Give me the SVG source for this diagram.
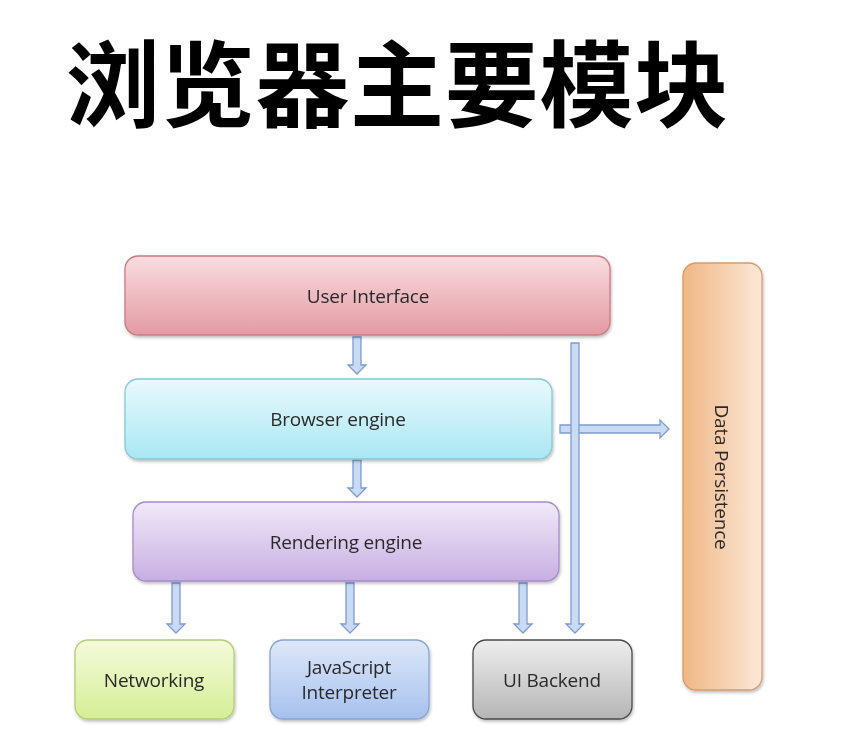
<svg xmlns="http://www.w3.org/2000/svg" width="852" height="738" viewBox="0 0 852 738">
<style>
.lbl{font-family:"Open Sans","Liberation Sans",sans-serif;font-size:19px;fill:#2a2a2a;text-anchor:middle;dominant-baseline:central;letter-spacing:-0.2px}
.title{font-family:"Noto Sans CJK SC","Noto Sans",sans-serif;font-size:94px;font-weight:bold;fill:#000;letter-spacing:0.7px}
.arr{fill:#c9daf3;stroke:#7d9bd1;stroke-width:1.3;stroke-linejoin:miter}
</style>
<defs>
<linearGradient id="gUI" x1="0" y1="0" x2="0" y2="1"><stop offset="0" stop-color="#f9dce0"/><stop offset="1" stop-color="#e49aa3"/></linearGradient>
<linearGradient id="gBE" x1="0" y1="0" x2="0" y2="1"><stop offset="0" stop-color="#e9f9fd"/><stop offset="1" stop-color="#a9e7f3"/></linearGradient>
<linearGradient id="gRE" x1="0" y1="0" x2="0" y2="1"><stop offset="0" stop-color="#f1e9f9"/><stop offset="1" stop-color="#c7afe2"/></linearGradient>
<linearGradient id="gNW" x1="0" y1="0" x2="0" y2="1"><stop offset="0" stop-color="#f4fbdb"/><stop offset="1" stop-color="#d5ee95"/></linearGradient>
<linearGradient id="gJS" x1="0" y1="0" x2="0" y2="1"><stop offset="0" stop-color="#dde8f9"/><stop offset="1" stop-color="#a6c1ee"/></linearGradient>
<linearGradient id="gUB" x1="0" y1="0" x2="0" y2="1"><stop offset="0" stop-color="#eeeeee"/><stop offset="1" stop-color="#b5b5b5"/></linearGradient>
<linearGradient id="gDP" x1="0" y1="0" x2="1" y2="0"><stop offset="0" stop-color="#efb785"/><stop offset="1" stop-color="#fbe8d8"/></linearGradient>
<filter id="sh" x="-10%" y="-10%" width="120%" height="130%"><feDropShadow dx="1" dy="2" stdDeviation="1.5" flood-color="#000" flood-opacity="0.25"/></filter>
</defs>
<text class="title" x="66" y="120">浏览器主要模块</text>
<g id="connectors">
<path class="arr" d="M353,337 H361 V365 H366 L357,374 L348,365 H353 Z"/>
<path class="arr" d="M353,460 H361 V488 H366 L357,497 L348,488 H353 Z"/>
<path class="arr" d="M172,583 H180 V624 H185 L176,633 L167,624 H172 Z"/>
<path class="arr" d="M346,583 H354 V624 H359 L350,633 L341,624 H346 Z"/>
<path class="arr" d="M519,583 H527 V624 H532 L523,633 L514,624 H519 Z"/>
<path class="arr" d="M560,425 H660 V420 L669,429 L660,438 V433 H560 Z"/>
<path class="arr" d="M571,343 H579 V624 H584 L575,633 L566,624 H571 Z"/>
</g>
<g id="ui" filter="url(#sh)"><rect x="125" y="256" width="485" height="79" rx="13" fill="url(#gUI)" stroke="#c97a84" stroke-width="1.3"/><text class="lbl" x="368" y="296">User  Interface</text></g>
<g id="be" filter="url(#sh)"><rect x="125" y="379" width="427" height="80" rx="13" fill="url(#gBE)" stroke="#87c8d6" stroke-width="1.3"/><text class="lbl" x="338" y="419">Browser engine</text></g>
<g id="re" filter="url(#sh)"><rect x="133" y="502" width="426" height="79" rx="13" fill="url(#gRE)" stroke="#a68bc9" stroke-width="1.3"/><text class="lbl" x="346" y="542">Rendering engine</text></g>
<g id="nw" filter="url(#sh)"><rect x="75" y="640" width="159" height="79" rx="13" fill="url(#gNW)" stroke="#b3cd77" stroke-width="1.3"/><text class="lbl" x="154" y="680">Networking</text></g>
<g id="js" filter="url(#sh)"><rect x="270" y="640" width="159" height="79" rx="13" fill="url(#gJS)" stroke="#87a3d3" stroke-width="1.3"/><text class="lbl" x="349" y="667">JavaScript</text><text class="lbl" x="349" y="692">Interpreter</text></g>
<g id="ub" filter="url(#sh)"><rect x="473" y="640" width="159" height="79" rx="13" fill="url(#gUB)" stroke="#4a4a4a" stroke-width="1.3"/><text class="lbl" x="552" y="680">UI Backend</text></g>
<g id="dp" filter="url(#sh)"><rect x="683" y="263" width="79" height="427" rx="13" fill="url(#gDP)" stroke="#d99b6a" stroke-width="1.3"/><text class="lbl" transform="translate(722,477) rotate(90)">Data Persistence</text></g>
</svg>
